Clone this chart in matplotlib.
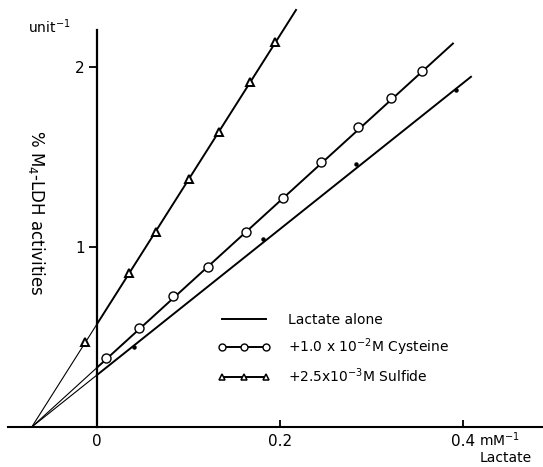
import matplotlib
matplotlib.use("Agg")
import matplotlib.pyplot as plt
from matplotlib.lines import Line2D

# reciprocal lactate concentration (mM^-1) vs reciprocal activity
sulfide_x = [-0.013, 0.035, 0.0645, 0.1005, 0.133, 0.167, 0.1945]
sulfide_y = [0.472, 0.856, 1.083, 1.378, 1.639, 1.917, 2.139]

cysteine_x = [0.0098, 0.046, 0.083, 0.121, 0.163, 0.203, 0.245, 0.285,
              0.321, 0.355]
cysteine_y = [0.383, 0.550, 0.728, 0.889, 1.083, 1.272, 1.472, 1.667,
              1.828, 1.978]

lactate_x = [0.040, 0.181, 0.283, 0.392]
lactate_y = [0.444, 1.044, 1.461, 1.872]

# fitted lines: common x-intercept, y-intercept at x=0 and end of drawn line
x_int = -0.0713
line_y0 = {"lactate": 0.289, "cysteine": 0.330, "sulfide": 0.572}
line_xend = {"lactate": 0.4087, "cysteine": 0.389, "sulfide": 0.2175}

labels = ["Lactate alone",
          "+1.0 x 10$^{-2}$M Cysteine",
          "+2.5x10$^{-3}$M Sulfide"]


def main():
    plt.rcParams['font.family'] = "DejaVu Sans"
    fig = plt.figure(figsize=(5.43, 4.67), dpi=100)
    ax = fig.add_axes([0, 0, 1, 1])

    # pixel mapping: x=0 at 97 px, 915 px/unit; y=0 at 427 px, 180 px/unit
    ax.set_xlim(-97 / 915., (543 - 97) / 915.)
    ax.set_ylim(-(467 - 427) / 180., 427 / 180.)

    for key in ["lactate", "cysteine", "sulfide"]:
        y0 = line_y0[key]
        slope = -y0 / x_int
        xe = line_xend[key]
        ax.plot([x_int, 0], [0, y0], color="k", lw=0.8)
        ax.plot([0, xe], [y0, y0 + slope * xe], color="k", lw=1.4)

    ax.plot(lactate_x, lactate_y, ls="none", marker="o", ms=2.2,
            color="k")
    ax.plot(cysteine_x, cysteine_y, ls="none", marker="o", ms=6.5,
            mfc="white", mec="k", mew=1.0)
    ax.plot(sulfide_x, sulfide_y, ls="none", marker="^", ms=6,
            mfc="white", mec="k", mew=1.4)

    # axes through the origin
    for side in ["top", "right"]:
        ax.spines[side].set_visible(False)
    ax.spines['left'].set_position(('data', 0))
    ax.spines['bottom'].set_position(('data', 0))
    ax.spines['left'].set_bounds(0, (427 - 30) / 180.)
    ax.spines['bottom'].set_bounds(-0.097, 0.4874)
    ax.spines['left'].set_linewidth(1.6)
    ax.spines['bottom'].set_linewidth(1.5)

    ax.set_yticks([1, 2])
    ax.set_yticklabels(["1", "2"])
    ax.tick_params(axis="y", direction="out", length=6, width=1.3, pad=3,
                   labelsize=11)
    ax.set_xticks([0, 0.2, 0.4])
    ax.set_xticklabels(["0", "0.2", "0.4"])
    ax.tick_params(axis="x", direction="in", length=5, width=1.3, pad=5,
                   labelsize=11)

    ax.text(0.4175, -0.072, "mM$^{-1}$", ha="left", va="center",
            fontsize=10)
    ax.text(0.475, -0.194, "Lactate", ha="right", va="baseline",
            fontsize=10)
    ax.text(-0.0754, 2.19, "unit$^{-1}$", ha="left", va="baseline",
            fontsize=10)
    ax.text(-0.0656, 1.19, "% M$_4$-LDH activities", rotation=270,
            ha="center", va="center", fontsize=12)

    handles = [Line2D([], [], color="k", lw=1.4),
               Line2D([], [], color="k", lw=1.4, marker="o", ms=5,
                      mfc="white", mec="k", mew=1.0),
               Line2D([], [], color="k", lw=1.4, marker="^", ms=5,
                      mfc="white", mec="k", mew=1.1)]
    ax.legend(handles, labels, loc="upper left",
              bbox_to_anchor=(218 / 543., 1 - 313 / 467.),
              frameon=False, borderpad=0, borderaxespad=0, numpoints=3,
              handlelength=3.75, handletextpad=1.3, labelspacing=0.65,
              fontsize=10)

    fig.savefig("out.png", dpi=100)


if __name__ == "__main__":
    main()
